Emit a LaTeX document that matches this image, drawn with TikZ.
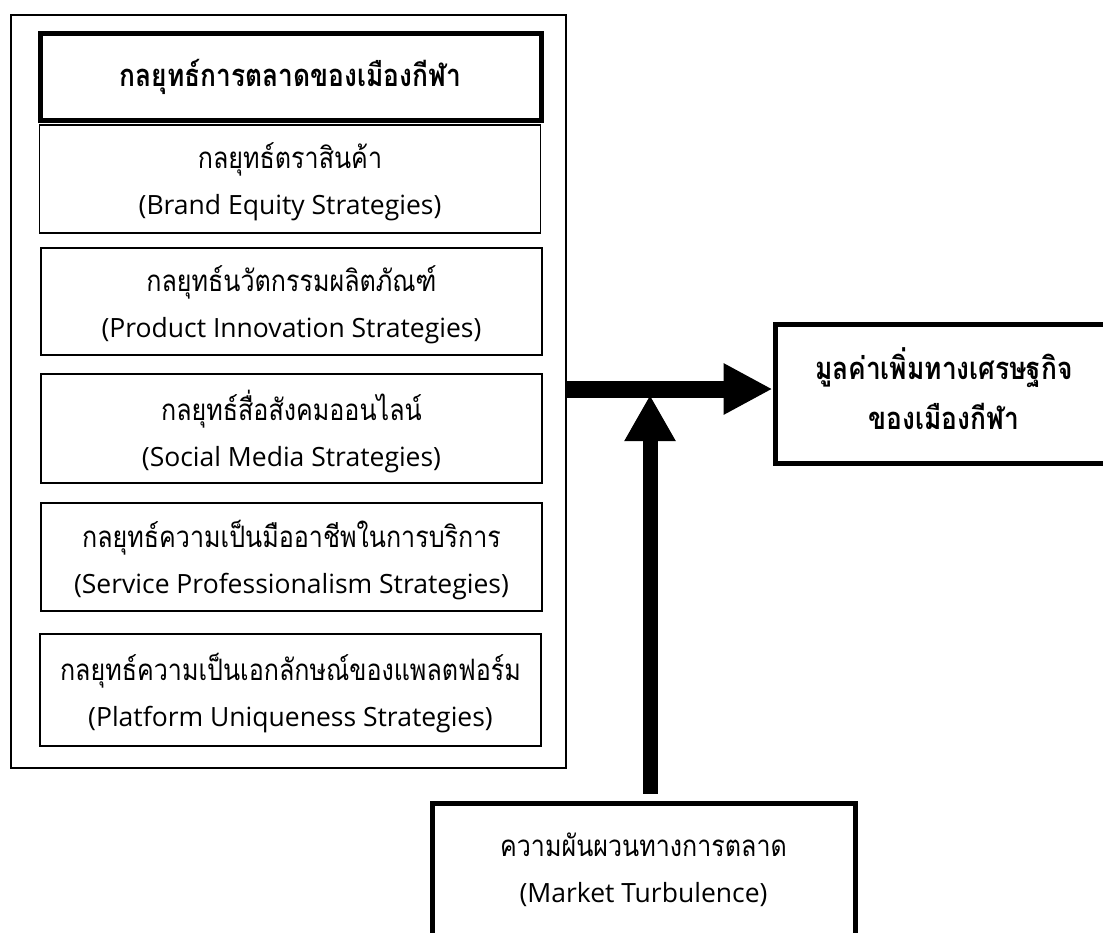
\documentclass[tikz,border=0pt]{standalone}
\usepackage{fontspec}
\setmainfont[Script=Thai, FakeStretch=0.85]{Loma}
\newfontfamily\latfont{Open Sans}
\usetikzlibrary{arrows.meta,calc}
\newcommand\latline[1]{{\latfont\fontsize{26.5}{46}\selectfont #1}}
\tikzset{
  thin box/.style={draw, line width=1.3pt, minimum width=501pt, inner sep=0pt},
  thick box/.style={draw, line width=5pt, inner sep=0pt},
  reg text/.style={inner sep=0pt, align=center, font=\fontsize{29.5}{46}\selectfont},
  bold text/.style={inner sep=0pt, align=center, font=\bfseries\fontsize{31}{50}\selectfont},
}
\begin{document}
\begin{tikzpicture}[x=1pt,y=-1pt]
\clip (0,0) rectangle (1103,932);
\fill[white] (0,0) rectangle (1103,932);
% outer container
\node[draw, line width=1.2pt, minimum width=555pt, minimum height=753pt] (outer) at (288.5,391.5) {};
% header
\node[thick box, minimum width=501pt, minimum height=87pt] (head) at (290.5,76.5) {};
\node[bold text] (headtxt) at (head.center) {กลยุทธ์การตลาดของเมืองกีฬา};
% strategy boxes
\node[thin box, minimum height=108pt] (brand) at (290,179) {};
\node[thin box, minimum height=107pt] (product) at (291.5,301.5) {};
\node[thin box, minimum height=109pt] (social) at (291.5,428.5) {};
\node[thin box, minimum height=108pt] (service) at (291.5,557) {};
\node[thin box, minimum height=112pt] (platform) at (290.5,690) {};
\node[reg text] (brandtxt) at ([yshift=-3pt]brand.center) {กลยุทธ์ตราสินค้า\\\latline{(Brand Equity Strategies)}};
\node[reg text] (producttxt) at ([yshift=-3pt]product.center) {กลยุทธ์นวัตกรรมผลิตภัณฑ์\\\latline{(Product Innovation Strategies)}};
\node[reg text] (socialtxt) at ([yshift=-3pt]social.center) {กลยุทธ์สื่อสังคมออนไลน์\\\latline{(Social Media Strategies)}};
\node[reg text] (servicetxt) at ([yshift=-3pt]service.center) {กลยุทธ์ความเป็นมืออาชีพในการบริการ\\\latline{(Service Professionalism Strategies)}};
\node[reg text] (platformtxt) at ([yshift=-3pt]platform.center) {กลยุทธ์ความเป็นเอกลักษณ์ของแพลตฟอร์ม\\\latline{(Platform Uniqueness Strategies)}};
% outcome box
\node[thick box, minimum width=338pt, minimum height=139pt] (rbox) at (944,393.5) {};
\node[bold text] (rtxt) at ([yshift=5pt]rbox.center) {มูลค่าเพิ่มทางเศรษฐกิจ\\ของเมืองกีฬา};
% moderator box
\node[thick box, minimum width=423pt, minimum height=142pt] (bbox) at (643.5,874) {};
\node[reg text] (btxt) at ([yshift=4pt]bbox.center) {ความผันผวนทางการตลาด\\\latline{(Market Turbulence)}};
% arrows
\coordinate (hy) at (0,389);
\coordinate (vt) at (650,395);
\draw[line width=17pt, -{Triangle[length=49pt,width=48pt]}] (outer.east |- hy) -- (rbox.west |- hy);
\draw[line width=15pt, -{Triangle[length=46pt,width=48pt]}] ([yshift=7pt]vt |- bbox.north) -- (vt);
\end{tikzpicture}
\end{document}
